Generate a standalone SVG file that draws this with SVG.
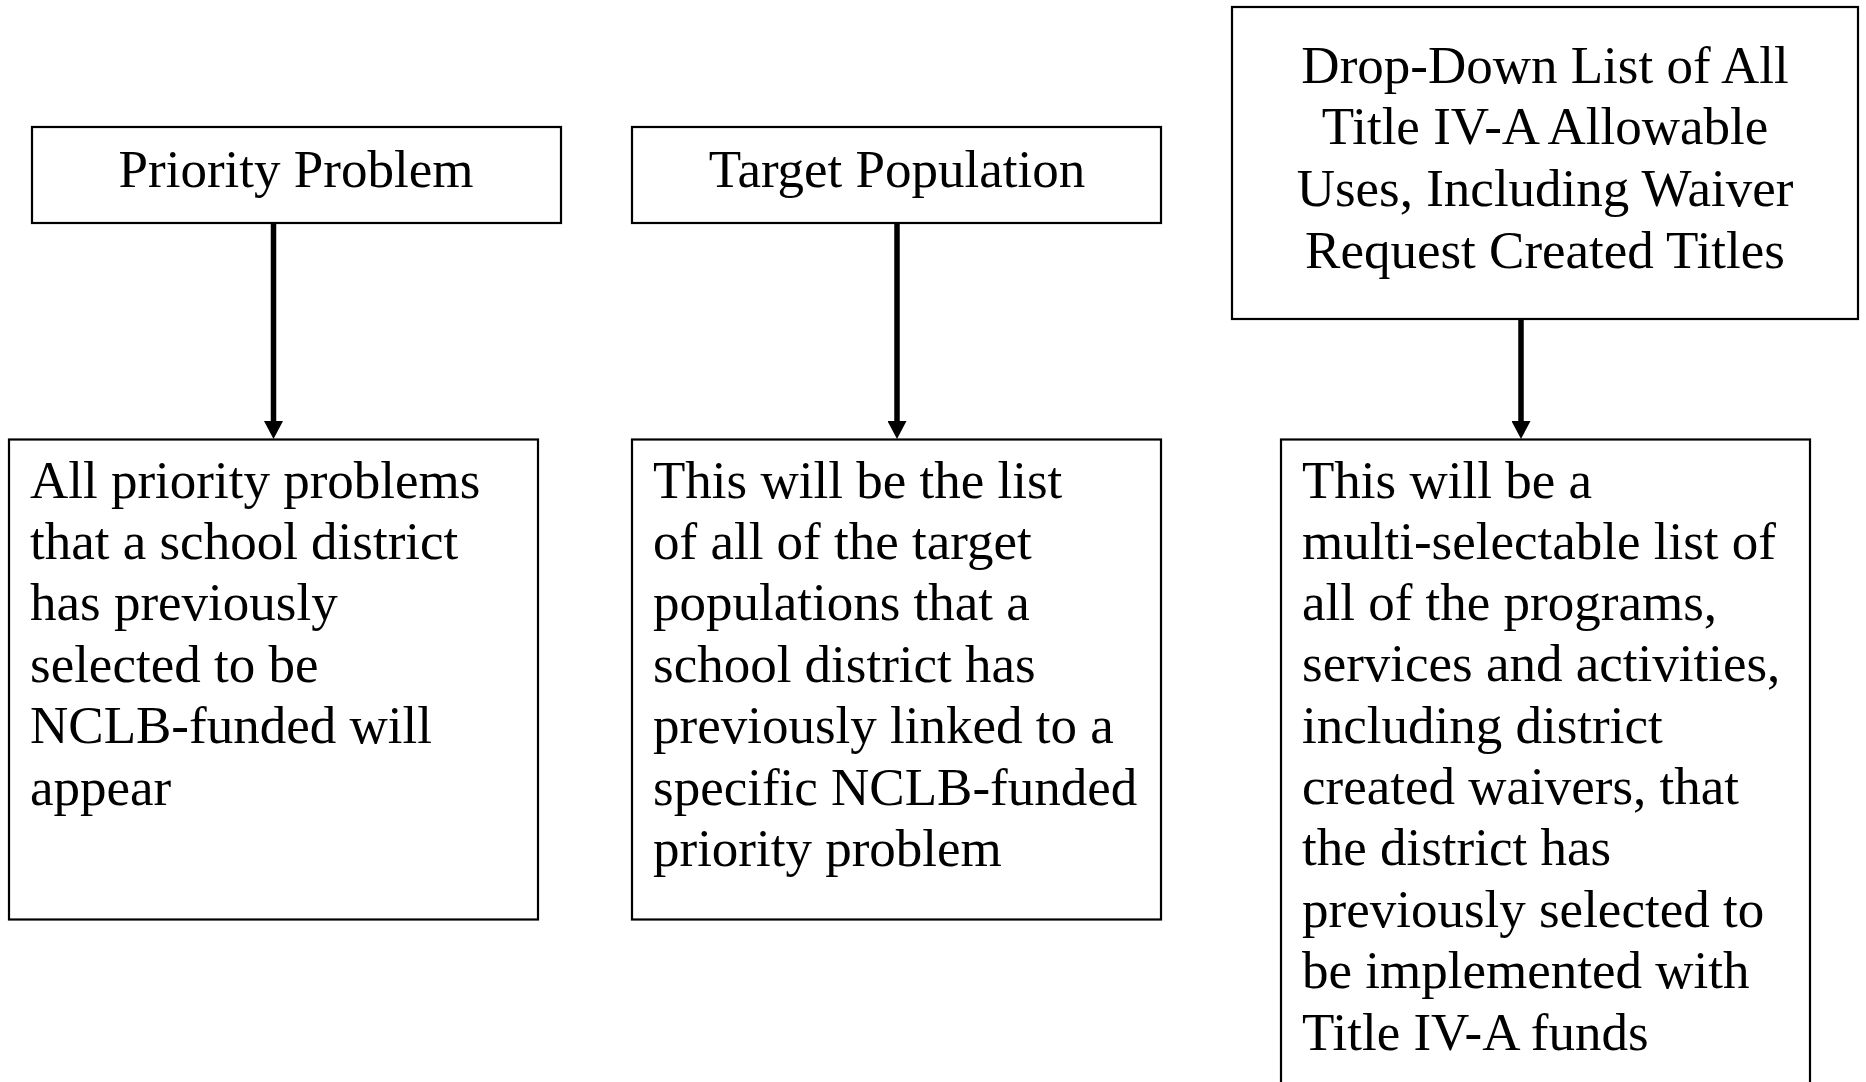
<svg xmlns="http://www.w3.org/2000/svg" width="1866" height="1082" viewBox="0 0 1866 1082">
  <style>
    .box { fill: #ffffff; stroke: #000000; stroke-width: 2.2; }
    .title { font-family: "Liberation Serif", "Times New Roman", serif; font-size: 53px; fill: #000000; text-anchor: middle; }
    .body { font-family: "Liberation Serif", "Times New Roman", serif; font-size: 53px; fill: #000000; }
    .link { stroke: #000000; stroke-width: 5.5; fill: none; }
  </style>
  <defs>
    <marker id="arrow" viewBox="0 0 18 19" refX="0" refY="9.5" markerWidth="18" markerHeight="19" markerUnits="userSpaceOnUse" orient="auto">
      <path d="M0,0 L18,9.5 L0,19 Z" fill="#000000"/>
    </marker>
  </defs>
  <rect width="1866" height="1082" fill="#ffffff"/>

  <!-- heading boxes -->
  <g id="priority-problem">
    <rect class="box" x="32" y="127" width="529" height="96"/>
    <text class="title" x="296" y="187">Priority Problem</text>
  </g>
  <g id="target-population">
    <rect class="box" x="632" y="127" width="529" height="96"/>
    <text class="title" x="897" y="187">Target Population</text>
  </g>
  <g id="allowable-uses">
    <rect class="box" x="1232" y="7" width="626" height="312"/>
    <text class="title" x="1545" y="83">Drop-Down List of All</text>
    <text class="title" x="1545" y="144">Title IV-A Allowable</text>
    <text class="title" x="1545" y="206">Uses, Including Waiver</text>
    <text class="title" x="1545" y="268">Request Created Titles</text>
  </g>

  <!-- description boxes -->
  <g id="priority-list">
    <rect class="box" x="9" y="439.5" width="529" height="480"/>
    <text class="body" x="30" y="498">All priority problems</text>
    <text class="body" x="30" y="559">that a school district</text>
    <text class="body" x="30" y="620">has previously</text>
    <text class="body" x="30" y="682">selected to be</text>
    <text class="body" x="30" y="743">NCLB-funded will</text>
    <text class="body" x="30" y="805">appear</text>
  </g>
  <g id="population-list">
    <rect class="box" x="632" y="439.5" width="529" height="480"/>
    <text class="body" x="653" y="498">This will be the list</text>
    <text class="body" x="653" y="559">of all of the target</text>
    <text class="body" x="653" y="620">populations that a</text>
    <text class="body" x="653" y="682">school district has</text>
    <text class="body" x="653" y="743">previously linked to a</text>
    <text class="body" x="653" y="805">specific NCLB-funded</text>
    <text class="body" x="653" y="866">priority problem</text>
  </g>
  <g id="program-list">
    <rect class="box" x="1281" y="439.5" width="529" height="660"/>
    <text class="body" x="1302" y="498">This will be a</text>
    <text class="body" x="1302" y="559">multi-selectable list of</text>
    <text class="body" x="1302" y="620">all of the programs,</text>
    <text class="body" x="1302" y="681">services and activities,</text>
    <text class="body" x="1302" y="743">including district</text>
    <text class="body" x="1302" y="804">created waivers, that</text>
    <text class="body" x="1302" y="865">the district has</text>
    <text class="body" x="1302" y="927">previously selected to</text>
    <text class="body" x="1302" y="988">be implemented with</text>
    <text class="body" x="1302" y="1050">Title IV-A funds</text>
  </g>

  <!-- connectors -->
  <g id="connectors">
    <line class="link" x1="273.5" y1="223" x2="273.5" y2="421" marker-end="url(#arrow)"/>
    <line class="link" x1="897" y1="223" x2="897" y2="421" marker-end="url(#arrow)"/>
    <line class="link" x1="1521" y1="319" x2="1521" y2="421" marker-end="url(#arrow)"/>
  </g>
</svg>
